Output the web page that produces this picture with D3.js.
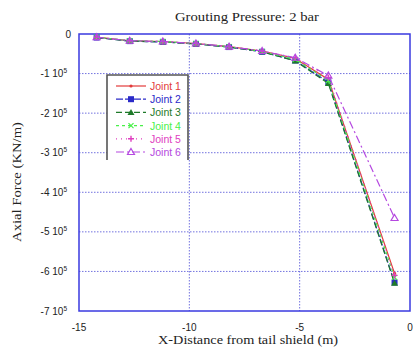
<!DOCTYPE html>
<html>
<head>
<meta charset="utf-8">
<script src="https://cdn.jsdelivr.net/npm/d3@7"></script>
<style>
  html, body { margin: 0; padding: 0; background: #fff; }
  svg { display: block; }
</style>
</head>
<body>
<svg id="chart" width="413" height="358"></svg>
<script>
// Distance behind the tail shield (m)
const distance = [-14.2, -12.7, -11.2, -9.7, -8.2, -6.7, -5.2, -3.7, -0.7];

// Axial force per joint (KN/m)
const joint1 = [-8000, -17000, -19000, -24000, -32000, -43000, -62000, -115000, -605000];
const joint2 = [-9000, -18000, -20000, -25000, -33000, -45000, -67000, -122000, -628000];
const joint3 = [-9000, -18000, -20000, -25000, -33000, -45000, -68000, -125000, -630000];
const joint4 = [-8000, -17000, -19000, -24000, -32000, -44000, -64000, -118000, -615000];
const joint5 = [-8000, -17000, -19000, -24000, -32000, -43000, -60000, -110000, -610000];
const joint6 = [-8000, -17000, -19000, -24000, -32000, -43000, -60000, -105000, -465000];

const seriesNames = ["Joint 1", "Joint 2", "Joint 3", "Joint 4", "Joint 5", "Joint 6"];
const seriesValues = [joint1, joint2, joint3, joint4, joint5, joint6];

const xTicks = [-15, -10, -5, 0];
const yTicks = [0, -100000, -200000, -300000, -400000, -500000, -600000, -700000];

const styles = [
  { color: "#e23a3a", dash: null,      marker: "dot" },
  { color: "#2a2ac8", dash: "7,2",     marker: "square" },
  { color: "#1f7a2a", dash: "6,3",     marker: "triangle" },
  { color: "#48f048", dash: "3,3",     marker: "cross" },
  { color: "#e040c0", dash: "1,4",     marker: "plus" },
  { color: "#b548e0", dash: "8,3,2,3", marker: "tri-open" }
];

const svg = d3.select("#chart");
const plotL = 79, plotR = 410, plotT = 34, plotB = 311;

const x = d3.scaleLinear().domain([-15, 0]).range([plotL, plotR]);
const y = d3.scaleLinear().domain([0, -700000]).range([plotT, plotB]);

const gridColor = "#5050d8";

// dotted grid
svg.append("g").selectAll("line")
  .data(yTicks.filter(v => v !== 0 && v !== -700000))
  .join("line")
  .attr("x1", plotL).attr("x2", plotR)
  .attr("y1", d => y(d)).attr("y2", d => y(d))
  .attr("stroke", gridColor).attr("stroke-width", 1)
  .attr("stroke-dasharray", "1.5,1.5").attr("opacity", 0.8);

svg.append("g").selectAll("line")
  .data(xTicks.filter(v => v !== -15 && v !== 0))
  .join("line")
  .attr("x1", d => x(d)).attr("x2", d => x(d))
  .attr("y1", plotT).attr("y2", plotB)
  .attr("stroke", gridColor).attr("stroke-width", 1)
  .attr("stroke-dasharray", "1.5,1.5").attr("opacity", 0.8);

// frame
svg.append("rect")
  .attr("x", plotL).attr("y", plotT)
  .attr("width", plotR - plotL).attr("height", plotB - plotT)
  .attr("fill", "none").attr("stroke", "#3a3ae0").attr("stroke-width", 1.5);

// y tick labels with exponent
const yLab = svg.append("g")
  .attr("font-family", "Liberation Sans, Arial, sans-serif")
  .attr("font-size", 10).attr("fill", "#222");
yTicks.forEach(v => {
  const t = yLab.append("text")
    .attr("x", v === 0 ? 71 : 67)
    .attr("y", y(v) + 3.5)
    .attr("text-anchor", "end");
  if (v === 0) {
    t.text("0");
  } else {
    const m = Math.round(v / 100000);
    t.append("tspan").text(m + " 10");
    t.append("tspan").attr("dy", -4).attr("font-size", 6.5).text("5");
  }
});

// x tick labels
svg.append("g")
  .attr("font-family", "Liberation Sans, Arial, sans-serif")
  .attr("font-size", 10).attr("fill", "#222")
  .selectAll("text").data(xTicks).join("text")
  .attr("x", d => x(d)).attr("y", 331)
  .attr("text-anchor", "middle")
  .text(d => d);

// titles
svg.append("text")
  .attr("x", 247).attr("y", 21)
  .attr("text-anchor", "middle")
  .attr("font-family", "Liberation Serif, Times New Roman, serif")
  .attr("font-size", 12.5).attr("fill", "#222")
  .attr("textLength", 144).attr("lengthAdjust", "spacingAndGlyphs")
  .text("Grouting Pressure: 2 bar");

svg.append("text")
  .attr("x", 248).attr("y", 344)
  .attr("text-anchor", "middle")
  .attr("font-family", "Liberation Serif, Times New Roman, serif")
  .attr("font-size", 13.5).attr("fill", "#222")
  .attr("textLength", 180).attr("lengthAdjust", "spacingAndGlyphs")
  .text("X-Distance from tail shield (m)");

svg.append("text")
  .attr("transform", "translate(21,182) rotate(-90)")
  .attr("text-anchor", "middle")
  .attr("font-family", "Liberation Serif, Times New Roman, serif")
  .attr("font-size", 13).attr("fill", "#222")
  .attr("textLength", 120).attr("lengthAdjust", "spacingAndGlyphs")
  .text("Axial Force (KN/m)");

// marker drawing
function drawMarker(g, type, color, cx, cy) {
  switch (type) {
    case "dot":
      g.append("circle").attr("cx", cx).attr("cy", cy).attr("r", 1.6).attr("fill", color);
      break;
    case "square":
      g.append("rect").attr("x", cx - 3).attr("y", cy - 3).attr("width", 6).attr("height", 6).attr("fill", color);
      break;
    case "triangle":
      g.append("path").attr("d", `M${cx},${cy - 3.5}L${cx + 3.5},${cy + 2.5}L${cx - 3.5},${cy + 2.5}Z`).attr("fill", color);
      break;
    case "cross":
      g.append("path").attr("d", `M${cx - 2.5},${cy - 2.5}L${cx + 2.5},${cy + 2.5}M${cx - 2.5},${cy + 2.5}L${cx + 2.5},${cy - 2.5}`)
        .attr("stroke", color).attr("stroke-width", 1.2);
      break;
    case "plus":
      g.append("path").attr("d", `M${cx - 3},${cy}L${cx + 3},${cy}M${cx},${cy - 3}L${cx},${cy + 3}`)
        .attr("stroke", color).attr("stroke-width", 1.4);
      break;
    case "tri-open":
      g.append("path").attr("d", `M${cx},${cy - 3.5}L${cx + 3.5},${cy + 2.5}L${cx - 3.5},${cy + 2.5}Z`)
        .attr("fill", "none").attr("stroke", color).attr("stroke-width", 1.2);
      break;
  }
}

// series lines and markers
const line = d3.line().x((d, i) => x(distance[i])).y(d => y(d));
seriesValues.forEach((vals, k) => {
  const s = styles[k];
  const g = svg.append("g");
  g.append("path")
    .attr("d", line(vals))
    .attr("fill", "none")
    .attr("stroke", s.color)
    .attr("stroke-width", 1.2)
    .attr("stroke-dasharray", s.dash);
  vals.forEach((v, i) => drawMarker(g, s.marker, s.color, x(distance[i]), y(v)));
});

// legend box: open at the bottom
const lg = svg.append("g");
lg.append("rect")
  .attr("x", 107).attr("y", 75).attr("width", 81).attr("height", 85)
  .attr("fill", "#fff");
lg.append("path")
  .attr("d", "M107,160V75H188V160")
  .attr("fill", "none").attr("stroke", "#555").attr("stroke-width", 1.6);
seriesNames.forEach((name, k) => {
  const s = styles[k];
  const ly = 86 + k * 13.2;
  lg.append("line")
    .attr("x1", 116).attr("x2", 146).attr("y1", ly).attr("y2", ly)
    .attr("stroke", s.color).attr("stroke-width", 1.2)
    .attr("stroke-dasharray", s.dash);
  drawMarker(lg, s.marker, s.color, 131, ly);
  lg.append("text")
    .attr("x", 150).attr("y", ly + 4)
    .attr("font-family", "Liberation Sans, Arial, sans-serif")
    .attr("font-size", 10.5).attr("fill", s.color)
    .text(name);
});
</script>
</body>
</html>
